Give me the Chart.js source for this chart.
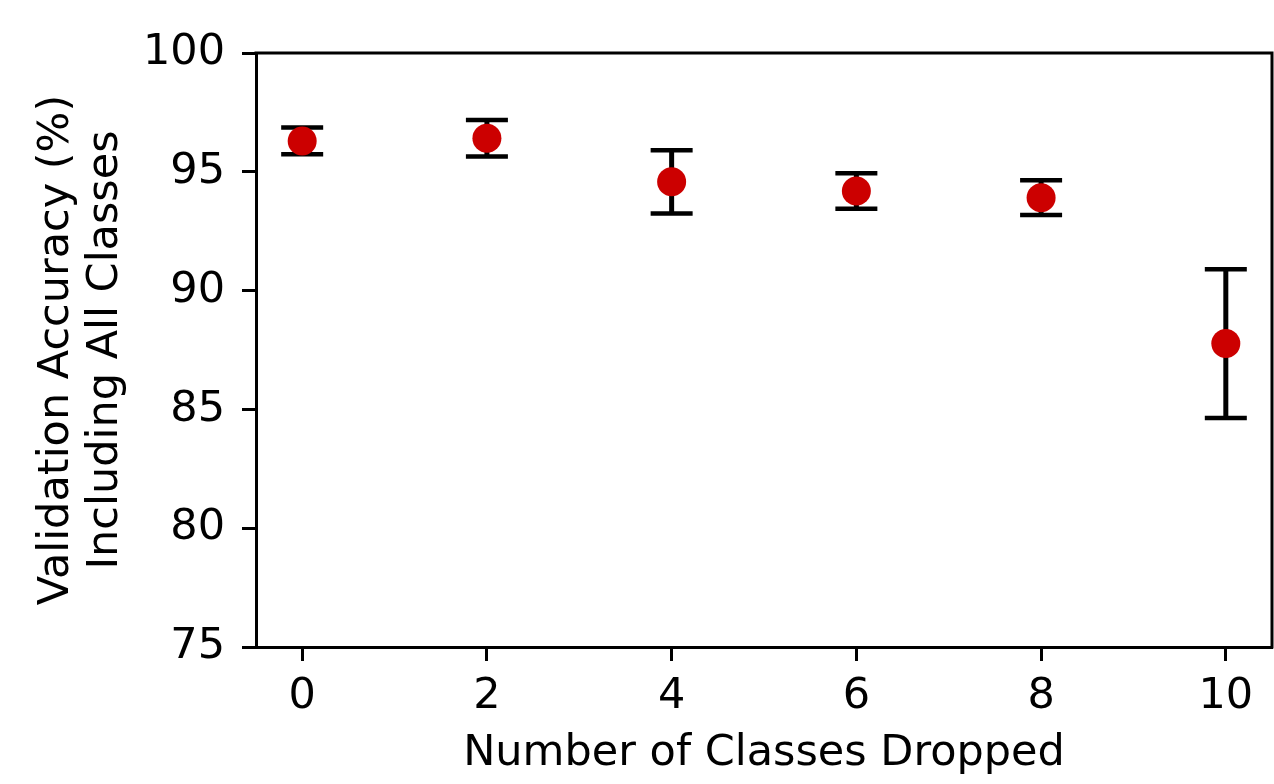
<!DOCTYPE html>
<html>
<head>
<meta charset="utf-8">
<script src="https://cdn.jsdelivr.net/npm/chart.js@4/dist/chart.umd.min.js"></script>
<style>
  html, body { margin: 0; padding: 0; background: #fff; }
  canvas { display: block; }
</style>
</head>
<body>
<canvas id="chart" width="1274" height="784"></canvas>
<script>
// values
const classesDropped = [0, 2, 4, 6, 8, 10];
const meanAccuracy = [96.30, 96.41, 94.58, 94.19, 93.91, 87.77];
const accuracyError = [0.56, 0.77, 1.33, 0.75, 0.73, 3.13];
const xTicks = [0, 2, 4, 6, 8, 10];
const yTicks = [75, 80, 85, 90, 95, 100];

const FONT = "'DejaVu Sans', sans-serif";

// matplotlib-like errorbars, drawn under the markers
const errorBars = {
  id: 'errorBars',
  beforeDatasetsDraw(chart) {
    const ctx = chart.ctx;
    const xs = chart.scales.x, ys = chart.scales.y;
    ctx.save();
    ctx.strokeStyle = '#000';
    ctx.lineCap = 'butt';
    classesDropped.forEach((c, i) => {
      const px = xs.getPixelForValue(c);
      const top = ys.getPixelForValue(meanAccuracy[i] + accuracyError[i]);
      const bot = ys.getPixelForValue(meanAccuracy[i] - accuracyError[i]);
      ctx.lineWidth = 5;
      ctx.beginPath();
      ctx.moveTo(px, top);
      ctx.lineTo(px, bot);
      ctx.stroke();
      ctx.lineWidth = 4.5;
      ctx.beginPath();
      ctx.moveTo(px - 21, top);
      ctx.lineTo(px + 21, top);
      ctx.moveTo(px - 21, bot);
      ctx.lineTo(px + 21, bot);
      ctx.stroke();
    });
    ctx.restore();
  }
};

// top and right spines
const frame = {
  id: 'frame',
  afterDraw(chart) {
    const {ctx, chartArea: a} = chart;
    ctx.save();
    ctx.strokeStyle = '#000';
    ctx.lineWidth = 3;
    ctx.beginPath();
    ctx.moveTo(a.left - 1.5, a.top);
    ctx.lineTo(a.right, a.top);
    ctx.lineTo(a.right, a.bottom + 1.5);
    ctx.stroke();
    ctx.restore();
  }
};

new Chart(document.getElementById('chart'), {
  type: 'scatter',
  data: {
    datasets: [{
      data: classesDropped.map((c, i) => ({x: c, y: meanAccuracy[i]})),
      backgroundColor: '#cc0000',
      borderWidth: 0,
      pointRadius: 14.5,
      pointHoverRadius: 14.5
    }]
  },
  options: {
    responsive: false,
    devicePixelRatio: 1,
    animation: false,
    events: [],
    layout: { autoPadding: false, padding: { top: 53, right: 2, bottom: 0, left: 0 } },
    plugins: { legend: { display: false }, tooltip: { enabled: false } },
    scales: {
      x: {
        type: 'linear',
        min: -0.5,
        max: 10.5,
        afterBuildTicks: s => { s.ticks = xTicks.map(v => ({value: v})); },
        afterFit: s => { s.height = 137; s.paddingLeft = 0; s.paddingRight = 0; },
        ticks: { color: '#000', padding: 11, maxRotation: 0, font: { family: FONT, size: 43, lineHeight: 1.15 } },
        grid: { drawOnChartArea: false, drawTicks: true, tickLength: 14, tickColor: '#000', tickWidth: 3, color: '#000' },
        border: { display: true, color: '#000', width: 3 },
        title: {
          display: true,
          text: 'Number of Classes Dropped',
          color: '#000',
          font: { family: FONT, size: 43, lineHeight: 1.15 },
          padding: { top: 0, bottom: 5 }
        }
      },
      y: {
        min: 75,
        max: 100,
        afterBuildTicks: s => { s.ticks = yTicks.map(v => ({value: v})); },
        afterFit: s => { s.width = 256; },
        ticks: { color: '#000', padding: 17, font: { family: FONT, size: 43, lineHeight: 1.15 } },
        grid: { drawOnChartArea: false, drawTicks: true, tickLength: 14, tickColor: '#000', tickWidth: 3, color: '#000' },
        border: { display: true, color: '#000', width: 3 },
        title: {
          display: true,
          text: ['Validation Accuracy (%)', 'Including All Classes'],
          color: '#000',
          font: { family: FONT, size: 43, lineHeight: 1.15 },
          padding: { top: 32, bottom: 0 }
        }
      }
    }
  },
  plugins: [errorBars, frame]
});
</script>
</body>
</html>
